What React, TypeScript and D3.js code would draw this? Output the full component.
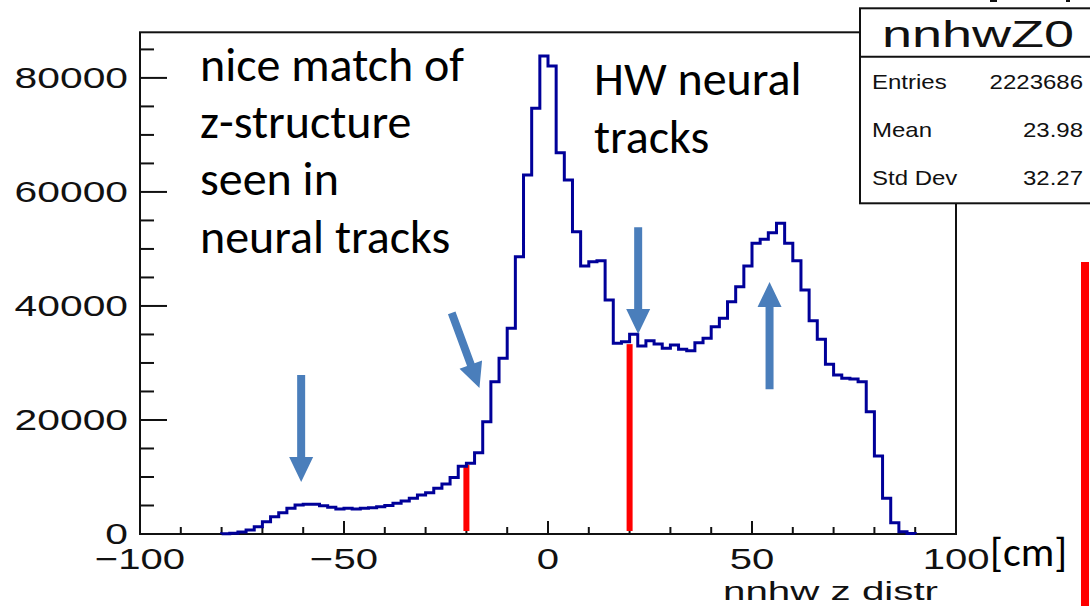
import React from "react";
import * as d3 from "d3";

// ---- data (bins of 2 cm from -100 to 100) ----
const binStart = -100;
const binWidth = 2;
const counts: number[] = [
  0, 0, 0, 0, 0, 0, 0, 0, 0, 0,
  50, 120, 350, 700, 1280, 2160, 3040, 3740, 4500, 5090,
  5200, 5200, 4970, 4680, 4390, 4500, 4390, 4500, 4620, 4800,
  5000, 5380, 5790, 6260, 6840, 7250, 8010, 8770, 9900, 11900,
  12400, 14270, 19700, 26720, 30810, 36070, 48640, 62970, 74660, 83840,
  82090, 66880, 62090, 53030, 47010, 47770, 47950, 41040, 33440, 33730,
  35020, 32980, 33910, 33330, 32570, 33150, 32390, 32160, 33560, 34320,
  36370, 37830, 40750, 43380, 47010, 50980, 51680, 52850, 54490, 50980,
  47950, 42800, 37420, 34140, 29760, 27890, 27300, 27200, 26720, 21460,
  13680, 6260, 1990, 410, 100, 0, 0, 0, 0, 0,
];

const xTicksMajor = [-100, -50, 0, 50, 100];
const xTicksMinor = [-90, -80, -70, -60, -40, -30, -20, -10, 10, 20, 30, 40, 60, 70, 80, 90];
const yTicksMajor = [0, 20000, 40000, 60000, 80000];
const yTicksMinor = [5000, 10000, 15000, 25000, 30000, 35000, 45000, 50000, 55000, 65000, 70000, 75000, 85000];

const statsTitle = "nnhwZ0";
const statsLabels = ["Entries", "Mean", "Std Dev"];
const statsValues = ["2223686", "23.98", "32.27"];

const xAxisTitle = "nnhw z distr";
const unitLabel = "[cm]";
const noteLeft = ["nice match of", "z-structure", "seen in", "neural tracks"];
const noteRight = ["HW neural", "tracks"];

// red markers: z position and height (counts)
const redMarkerZ = [-20, 20];
const redMarkerTop = [12100, 33300];

// arrows: tail (z, counts) -> tip (z, counts)
const arrowTailZ = [-60.5, -23.6, 22.1, 54.3];
const arrowTailV = [27900, 38800, 53800, 25400];
const arrowTipZ = [-60.5, -16.8, 22.1, 54.3];
const arrowTipV = [9100, 25600, 35100, 44200];

const W = 1090;
const H = 606;

function Arrow({ x1, y1, x2, y2 }: { x1: number; y1: number; x2: number; y2: number }) {
  const dx = x2 - x1;
  const dy = y2 - y1;
  const len = Math.hypot(dx, dy);
  const ang = (Math.atan2(dy, dx) * 180) / Math.PI;
  const sw = 4; // half shaft
  const hw = 12; // half head
  const hl = 25; // head length
  const pts = [
    [0, -sw],
    [len - hl, -sw],
    [len - hl, -hw],
    [len, 0],
    [len - hl, hw],
    [len - hl, sw],
    [0, sw],
  ]
    .map((p) => p.join(","))
    .join(" ");
  return (
    <polygon
      points={pts}
      fill="#4a7ebb"
      transform={`translate(${x1},${y1}) rotate(${ang})`}
    />
  );
}

export default function App() {
  const x = d3.scaleLinear().domain([-100, 100]).range([140, 956]);
  const y = d3.scaleLinear().domain([0, 88000]).range([534, 32.3]);

  // histogram step outline over non-zero range
  const first = counts.findIndex((c) => c > 0);
  let last = counts.length - 1;
  while (last > 0 && counts[last] === 0) last--;
  const pts: [number, number][] = [];
  pts.push([x(binStart + first * binWidth), y(0)]);
  for (let i = first; i <= last; i++) {
    const a = binStart + i * binWidth;
    pts.push([x(a), y(counts[i])]);
    pts.push([x(a + binWidth), y(counts[i])]);
  }
  pts.push([x(binStart + (last + 1) * binWidth), y(0)]);
  const histPath = d3.line()(pts) as string;

  const labelFont = "'Liberation Sans', Arial, Helvetica, sans-serif";
  const noteFont = "Carlito, Calibri, Lato, 'Open Sans', sans-serif";

  return (
    <svg
      width={W}
      height={H}
      viewBox={`0 0 ${W} ${H}`}
      style={{ position: "absolute", left: 0, top: 0, background: "#fff" }}
    >
      <rect x={0} y={0} width={W} height={H} fill="#fff" />

      {/* frame */}
      <rect x={140} y={32.3} width={816} height={501.7} fill="none" stroke="#111" strokeWidth={2} />

      {/* y ticks */}
      {yTicksMajor.map((v) => (
        <line key={"ym" + v} x1={140} x2={167} y1={y(v)} y2={y(v)} stroke="#111" strokeWidth={2} />
      ))}
      {yTicksMinor.map((v) => (
        <line key={"yn" + v} x1={140} x2={154} y1={y(v)} y2={y(v)} stroke="#111" strokeWidth={2} />
      ))}
      {/* x ticks */}
      {xTicksMajor.map((v) => (
        <line key={"xm" + v} x1={x(v)} x2={x(v)} y1={534} y2={521} stroke="#111" strokeWidth={2} />
      ))}
      {xTicksMinor.map((v) => (
        <line key={"xn" + v} x1={x(v)} x2={x(v)} y1={534} y2={527} stroke="#111" strokeWidth={2} />
      ))}

      {/* y labels */}
      {yTicksMajor.map((v) => (
        <text
          key={"yl" + v}
          transform={`translate(128,${y(v) + 10}) scale(1.36,1)`}
          textAnchor="end"
          fontFamily={labelFont}
          fontSize={30}
          fill="#111"
        >
          {String(v)}
        </text>
      ))}
      {/* x labels */}
      {xTicksMajor.map((v) => (
        <text
          key={"xl" + v}
          transform={`translate(${x(v)},569) scale(1.38,1)`}
          textAnchor="middle"
          fontFamily={labelFont}
          fontSize={29}
          fill="#111"
        >
          {d3.format("d")(v)}
        </text>
      ))}
      <text
        transform={`translate(938,600) scale(1.55,1)`}
        textAnchor="end"
        fontFamily={labelFont}
        fontSize={26}
        fill="#111"
      >
        {xAxisTitle}
      </text>
      <text x={990} y={566} fontFamily={noteFont} fontSize={42} fill="#000">
        {unitLabel}
      </text>

      {/* red markers */}
      {redMarkerZ.map((z, i) => (
        <rect
          key={"rm" + i}
          x={x(z) - 3}
          y={y(redMarkerTop[i])}
          width={6}
          height={y(0) - 3 - y(redMarkerTop[i])}
          fill="#ff0000"
        />
      ))}

      {/* histogram */}
      <path d={histPath} fill="none" stroke="#000099" strokeWidth={3} strokeLinejoin="miter" />

      {/* arrows */}
      {arrowTailZ.map((z, i) => (
        <Arrow key={"ar" + i} x1={x(z)} y1={y(arrowTailV[i])} x2={x(arrowTipZ[i])} y2={y(arrowTipV[i])} />
      ))}

      {/* notes */}
      {noteLeft.map((t, i) => (
        <text key={"nl" + i} x={200} y={80.7 + i * 57.3} fontFamily={noteFont} fontSize={48} fill="#000">
          {t}
        </text>
      ))}
      {noteRight.map((t, i) => (
        <text key={"nr" + i} x={594} y={95 + i * 58.3} fontFamily={noteFont} fontSize={48} fill="#000">
          {t}
        </text>
      ))}

      {/* stats box */}
      <rect x={860} y={8.3} width={236} height={195} fill="#fff" stroke="#111" strokeWidth={2} />
      <line x1={860} x2={1096} y1={56.7} y2={56.7} stroke="#111" strokeWidth={2} />
      <text
        transform={`translate(978,46.7) scale(1.46,1)`}
        textAnchor="middle"
        fontFamily={labelFont}
        fontSize={37}
        fill="#111"
      >
        {statsTitle}
      </text>
      {statsLabels.map((t, i) => (
        <g key={"st" + i}>
          <text
            transform={`translate(872,${89 + i * 48}) scale(1.2,1)`}
            fontFamily={labelFont}
            fontSize={20}
            fill="#111"
          >
            {t}
          </text>
          <text
            transform={`translate(1083,${89 + i * 48}) scale(1.2,1)`}
            textAnchor="end"
            fontFamily={labelFont}
            fontSize={20}
            fill="#111"
          >
            {statsValues[i]}
          </text>
        </g>
      ))}

      {/* cut-off marks at top */}
      <line x1={990} x2={997} y1={1} y2={1} stroke="#111" strokeWidth={2} />
      <line x1={1066} x2={1070} y1={1} y2={1} stroke="#111" strokeWidth={2} />

      {/* right red bar */}
      <rect x={1081} y={262} width={8} height={H - 262} fill="#ff0000" />
    </svg>
  );
}
